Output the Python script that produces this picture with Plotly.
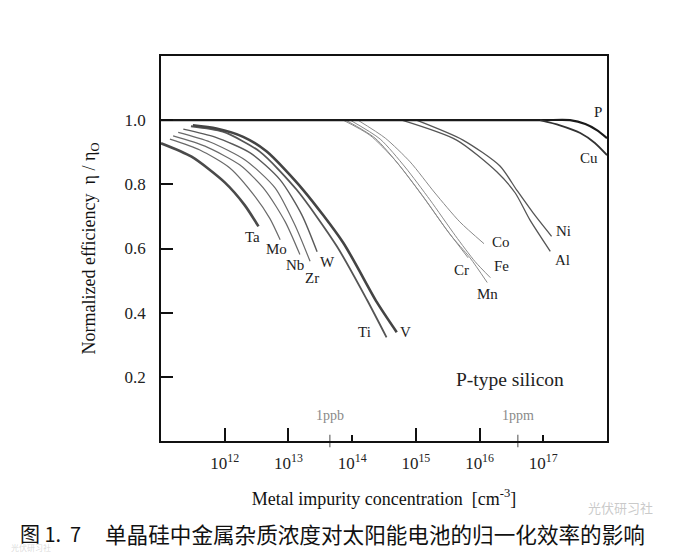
import plotly.graph_objects as go

# ---------------- data (x in log10 concentration, cm^-3) ----------------
ta_lx = [11.00, 11.48, 12.00, 12.31, 12.53]
ta_y  = [0.928, 0.886, 0.806, 0.736, 0.669]

mo_lx = [11.14, 11.61, 12.08, 12.48, 12.71, 12.87]
mo_y  = [0.941, 0.907, 0.851, 0.761, 0.693, 0.627]

nb_lx = [11.19, 11.69, 12.24, 12.63, 12.95, 13.18]
nb_y  = [0.951, 0.919, 0.860, 0.783, 0.683, 0.581]

zr_lx = [11.27, 11.77, 12.32, 12.79, 13.10, 13.34]
zr_y  = [0.962, 0.932, 0.876, 0.789, 0.674, 0.560]

w_lx  = [11.35, 11.85, 12.40, 12.87, 13.21, 13.45]
w_y   = [0.972, 0.947, 0.898, 0.814, 0.705, 0.590]

ti_lx = [11.47, 11.97, 12.55, 13.13, 13.76, 14.23, 14.54]
ti_y  = [0.981, 0.964, 0.902, 0.783, 0.607, 0.441, 0.323]

v_lx  = [11.50, 11.87, 12.29, 12.66, 13.23, 13.86, 14.39, 14.70]
v_y   = [0.984, 0.974, 0.948, 0.902, 0.783, 0.618, 0.432, 0.339]

cr_lx = [13.86, 14.28, 14.67, 15.07, 15.46, 15.82]
cr_y  = [1.000, 0.953, 0.876, 0.773, 0.665, 0.571]

mn_lx = [13.90, 14.36, 14.75, 15.14, 15.54, 15.85, 16.12]
mn_y  = [1.000, 0.944, 0.857, 0.755, 0.643, 0.571, 0.494]

fe_lx = [13.97, 14.44, 14.83, 15.22, 15.62, 15.93, 16.17]
fe_y  = [1.000, 0.941, 0.854, 0.752, 0.640, 0.559, 0.509]

co_lx = [14.09, 14.52, 14.91, 15.30, 15.69, 16.07]
co_y  = [1.000, 0.944, 0.870, 0.773, 0.683, 0.615]

ni_lx = [15.01, 15.74, 16.32, 16.58, 16.84, 17.13]
ni_y  = [1.000, 0.938, 0.857, 0.783, 0.711, 0.638]

al_lx = [14.78, 15.64, 16.27, 16.56, 16.79, 17.11]
al_y  = [1.000, 0.938, 0.839, 0.773, 0.689, 0.591]

p_lx  = [11.00, 14.00, 17.00, 17.42, 17.66, 17.84, 18.00]
p_y   = [1.000, 1.000, 1.000, 1.000, 0.988, 0.969, 0.944]

cu_lx = [16.95, 17.26, 17.58, 17.81, 18.00]
cu_y  = [1.000, 0.984, 0.960, 0.929, 0.891]

# labels
label_text = ["Ta", "Mo", "Nb", "Zr", "W", "Ti", "V",
              "Cr", "Co", "Fe", "Mn", "Ni", "Al", "P", "Cu"]
label_lx   = [12.44, 12.82, 13.10, 13.37, 13.61, 14.20, 14.83,
              15.71, 16.34, 16.34, 16.13, 17.31, 17.30, 17.86, 17.72]
label_y    = [0.637, 0.599, 0.550, 0.509, 0.559, 0.339, 0.339,
              0.534, 0.621, 0.547, 0.457, 0.655, 0.565, 1.025, 0.882]

# axis ticks
x_tick_exp = [12, 13, 14, 15, 16, 17]
x_long_exp = [12, 13, 15, 16]
y_ticks = [0.2, 0.4, 0.6, 0.8, 1.0]
y_tick_text = ["0.2", "0.4", "0.6", "0.8", "1.0"]

# ppb / ppm markers
unit_text = ["1ppb", "1ppm"]
unit_lx = [13.65, 16.60]

SERIF = "Liberation Serif, Times New Roman, serif"
CJK = "Noto Sans CJK SC"

curves = [
    (ta_lx, ta_y, "#4a4a4a", 2.6),
    (mo_lx, mo_y, "#6a6a6a", 1.2),
    (nb_lx, nb_y, "#6a6a6a", 1.2),
    (zr_lx, zr_y, "#6a6a6a", 1.2),
    (w_lx, w_y, "#5a5a5a", 1.4),
    (ti_lx, ti_y, "#555555", 1.8),
    (v_lx, v_y, "#444444", 2.6),
    (cr_lx, cr_y, "#8a8a8a", 1.0),
    (mn_lx, mn_y, "#8a8a8a", 1.0),
    (fe_lx, fe_y, "#8a8a8a", 1.0),
    (co_lx, co_y, "#8a8a8a", 1.0),
    (ni_lx, ni_y, "#555555", 1.3),
    (al_lx, al_y, "#555555", 1.3),
    (p_lx, p_y, "#1a1a1a", 2.2),
]

fig = go.Figure()
for lx, yy, col, w in curves:
    fig.add_trace(go.Scatter(
        x=[10 ** v for v in lx], y=yy, mode="lines",
        line=dict(color=col, width=w, shape="spline", smoothing=0.7),
        showlegend=False, hoverinfo="skip"))

# Cu on overlay axis (same range) so the long-tick axis is drawn
fig.add_trace(go.Scatter(
    x=[10 ** v for v in cu_lx], y=cu_y, mode="lines", xaxis="x2",
    line=dict(color="#333333", width=1.8, shape="spline", smoothing=0.7),
    showlegend=False, hoverinfo="skip"))

# ppb / ppm small crossing ticks
fig.add_trace(go.Scatter(
    x=[10 ** v for v in unit_lx], y=[0, 0], mode="markers",
    marker=dict(symbol="line-ns", size=9, line=dict(color="#888888", width=1.5)),
    cliponaxis=False, showlegend=False, hoverinfo="skip"))

annotations = []
for t, lx, yy in zip(label_text, label_lx, label_y):
    annotations.append(dict(x=lx, y=yy, xref="x", yref="y", text=t,
                            showarrow=False,
                            font=dict(family=SERIF, size=15, color="#222222")))
for t, lx in zip(unit_text, unit_lx):
    annotations.append(dict(x=lx, y=0, xref="x", yref="y", text=t, yshift=26,
                            showarrow=False,
                            font=dict(family=SERIF, size=14, color="#8a8a8a")))
annotations.append(dict(x=16.48, y=0.193, xref="x", yref="y", text="P-type silicon",
                        showarrow=False,
                        font=dict(family=SERIF, size=19.5, color="#222222")))
# caption
annotations.append(dict(x=-0.321, y=-0.239, xref="paper", yref="paper",
                        xanchor="left", yanchor="middle", text="图 1.&nbsp;&nbsp;7",
                        showarrow=False,
                        font=dict(family=CJK, size=20, color="#111111")))
annotations.append(dict(x=-0.130, y=-0.239, xref="paper", yref="paper",
                        xanchor="left", yanchor="middle",
                        text="单晶硅中金属杂质浓度对太阳能电池的归一化效率的影响",
                        showarrow=False,
                        font=dict(family=CJK, size=21.6, color="#111111")))
# faint watermarks
annotations.append(dict(x=1.03, y=-0.172, xref="paper", yref="paper",
                        xanchor="center", yanchor="middle", text="光伏研习社",
                        showarrow=False,
                        font=dict(family=CJK, size=13,
                                  color="rgba(150,150,150,0.5)")))
annotations.append(dict(x=-0.341, y=-0.276, xref="paper", yref="paper",
                        xanchor="left", yanchor="middle", text="光伏研习社",
                        showarrow=False,
                        font=dict(family=CJK, size=8,
                                  color="rgba(170,170,170,0.45)")))

fig.update_layout(
    width=684, height=553,
    margin=dict(l=153, r=85, t=48, b=120),
    paper_bgcolor="white", plot_bgcolor="white",
    showlegend=False,
    xaxis=dict(
        type="log", range=[11, 18],
        tickvals=[10 ** e for e in x_tick_exp],
        ticktext=[f"10<sup>{e}</sup>" for e in x_tick_exp],
        ticks="inside", ticklen=6, tickwidth=2, tickcolor="#111111",
        ticklabelstandoff=6,
        showline=True, mirror=True, linecolor="#111111", linewidth=1.6,
        showgrid=False, zeroline=False,
        tickfont=dict(family=SERIF, size=17, color="#222222"),
        title=dict(text="Metal impurity concentration  [cm<sup>-3</sup>]",
                   font=dict(family=SERIF, size=18, color="#111111"), standoff=20),
    ),
    xaxis2=dict(
        type="log", range=[11, 18], overlaying="x", anchor="y", side="bottom",
        tickvals=[10 ** e for e in x_long_exp],
        ticks="inside", ticklen=13, tickwidth=2, tickcolor="#111111",
        showticklabels=False, showgrid=False, zeroline=False, showline=False,
    ),
    yaxis=dict(
        range=[0, 1.2], tickvals=y_ticks, ticktext=y_tick_text,
        ticks="inside", ticklen=12, tickwidth=2, tickcolor="#111111",
        ticklabelstandoff=10,
        showline=True, mirror=True, linecolor="#111111", linewidth=1.6,
        showgrid=False, zeroline=False,
        tickfont=dict(family=SERIF, size=17, color="#222222"),
        title=dict(text="Normalized efficiency  η / η<sub>O</sub>",
                   font=dict(family=SERIF, size=18, color="#111111"), standoff=24),
    ),
    annotations=annotations,
)

fig.write_html("out.html")
